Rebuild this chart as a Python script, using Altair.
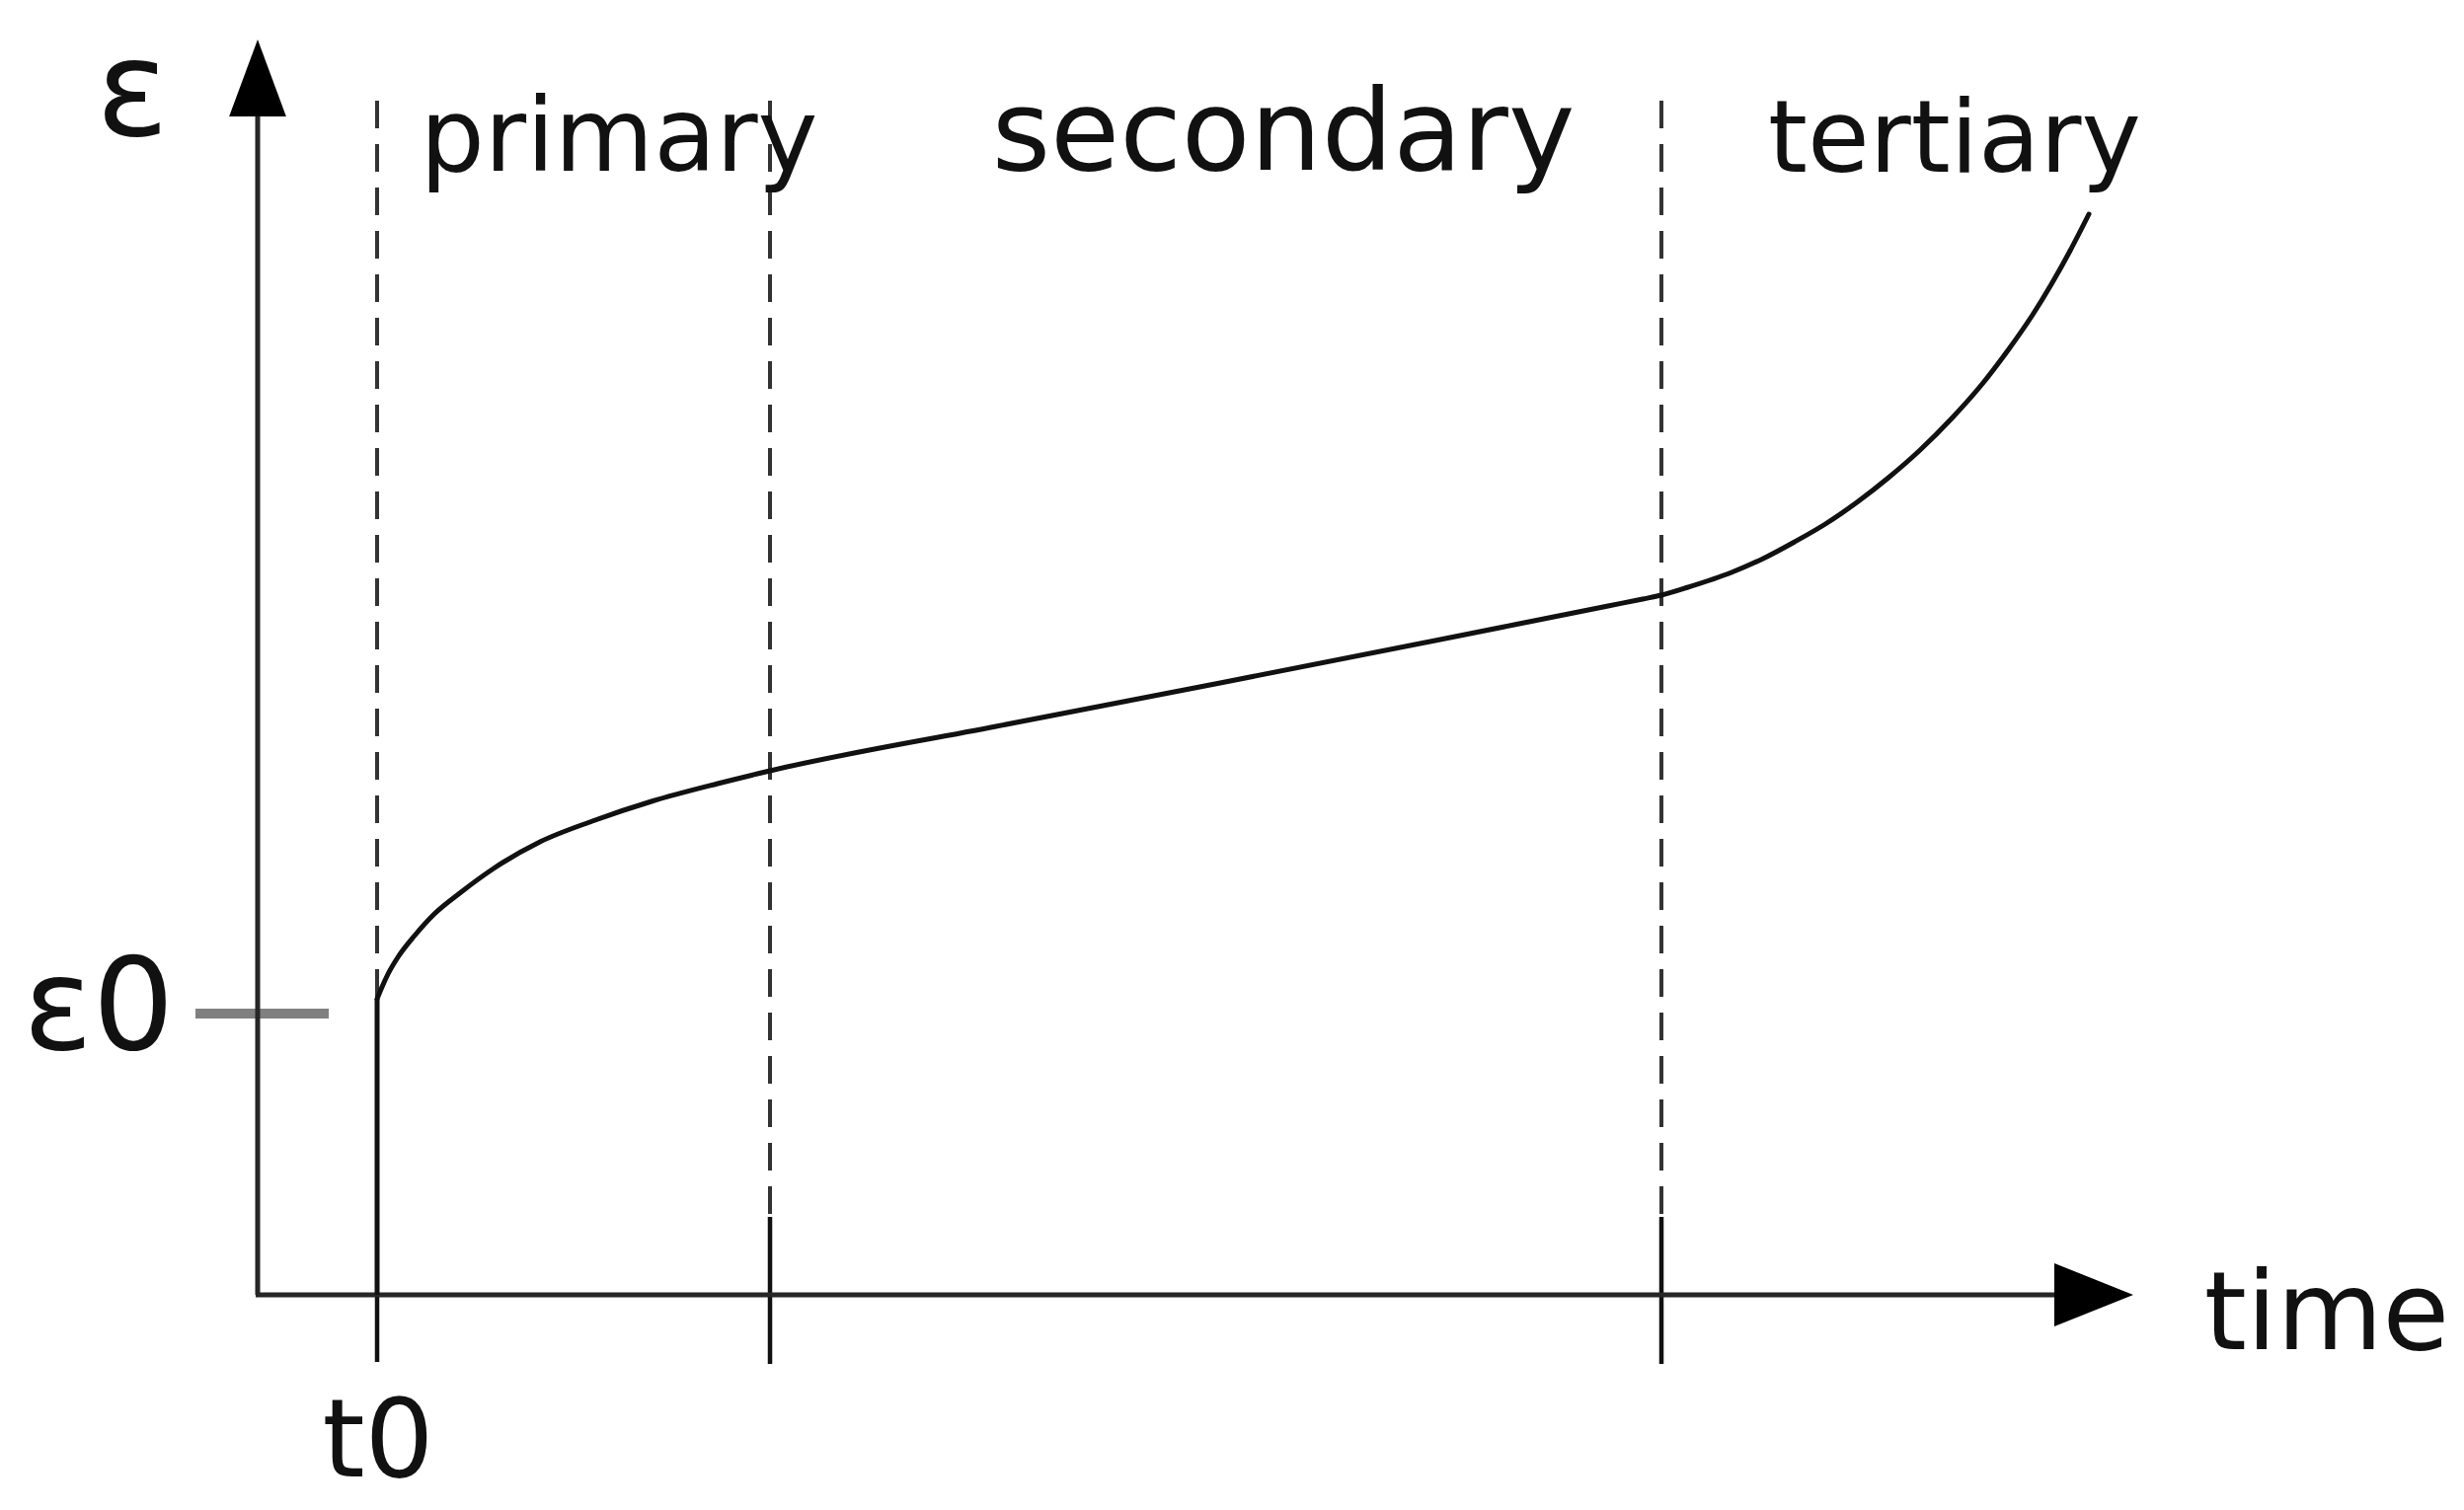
import altair as alt
import pandas as pd

# ---- data (time units, strain units) ----
t0_time = 12.3
initial_strain_top = 30.0  # top of the instantaneous (vertical) strain jump at t0

curve_time = [12.3, 12.8, 13.4, 14.4, 16.1, 18.1, 20.8, 24.1, 28.8, 34.1, 40.1,
              46.8, 52.1, 75.0, 97.7, 120.0, 131.0, 137.0, 140.5, 142.4, 145.1, 149.5,
              152.7, 155.9, 159.0, 162.2, 165.4, 168.6, 171.8, 174.9, 177.5, 180.0,
              181.9, 183.8, 185.7]
curve_strain = [30.0, 31.2, 32.5, 34.2, 36.4, 38.6, 40.8, 43.2, 45.9, 48.0, 50.0,
                51.8, 53.1, 57.6, 62.0, 66.4, 68.6, 69.8, 70.5, 70.9, 71.7, 73.2,
                74.6, 76.3, 78.1, 80.3, 82.8, 85.6, 88.8, 92.3, 95.7, 99.3,
                102.4, 105.8, 109.5]

boundary_times = [12.3, 52.1, 142.4]
dash_top = [121.0, 121.0, 121.0]
dash_bottom = [0.0, 7.9, 7.9]
tick_top = [0.0, 7.9, 7.9]
tick_bottom = [-6.8, -7.0, -7.0]

stage_labels = ["primary", "secondary", "tertiary"]
stage_label_time = [36.8, 104.1, 172.1]
stage_label_strain = [113.9, 114.0, 113.8]
stage_label_size = [103, 114, 102]

axis_labels = ["ε", "ε0", "t0", "time"]
axis_label_time = [-12.5, -15.9, 12.4, 209.8]
axis_label_strain = [117.5, 24.9, -18.4, -5.5]
axis_label_size = [136, 130, 110, 110]

eps0_value = 28.5
eps0_tick_from = -6.1
eps0_tick_to = 7.4

x_axis_end = 182.2
y_axis_end = 119.7
x_arrow_center = 186.2
y_arrow_center = 123.3

# ---- scales ----
xs = alt.Scale(domain=[-25.1, 222.9], nice=False, zero=False)
ys = alt.Scale(domain=[-21.0, 130.4], nice=False, zero=False)


def X(f):
    return alt.X(f"{f}:Q", scale=xs, axis=None)


def Y(f):
    return alt.Y(f"{f}:Q", scale=ys, axis=None)


axes_df = pd.DataFrame({"t": [0.2, 0.0], "e": [0.0, 0.0],
                        "t2": [0.2, x_axis_end], "e2": [y_axis_end, 0.0]})
axes = alt.Chart(axes_df).mark_rule(color="#262626", strokeWidth=5).encode(
    x=X("t"), y=Y("e"), x2="t2:Q", y2="e2:Q")

y_arrow = alt.Chart(pd.DataFrame({"t": [0.2], "e": [y_arrow_center]})).mark_point(
    shape="M0,-1L0.74,1L-0.74,1Z", size=6084, filled=True, color="black", opacity=1
).encode(x=X("t"), y=Y("e"))

x_arrow = alt.Chart(pd.DataFrame({"t": [x_arrow_center], "e": [0.0]})).mark_point(
    shape="M1,0L-1,-0.8L-1,0.8Z", size=6400, filled=True, color="black", opacity=1
).encode(x=X("t"), y=Y("e"))

bdf = pd.DataFrame({"t": boundary_times, "top": dash_top, "bottom": dash_bottom,
                    "ttop": tick_top, "tbot": tick_bottom})
dashed = alt.Chart(bdf).mark_rule(strokeDash=[28, 16], strokeWidth=4, color="#333333").encode(
    x=X("t"), y=Y("top"), y2="bottom:Q")
ticks = alt.Chart(bdf).mark_rule(strokeWidth=4.5, color="#111111").encode(
    x=X("t"), y=Y("ttop"), y2="tbot:Q")

jump = alt.Chart(pd.DataFrame({"t": [t0_time], "e": [0.0], "e2": [initial_strain_top]})).mark_rule(
    strokeWidth=5, color="#111111").encode(x=X("t"), y=Y("e"), y2="e2:Q")

eps0 = alt.Chart(pd.DataFrame({"t": [eps0_tick_from], "t2": [eps0_tick_to], "e": [eps0_value]})).mark_rule(
    color="#808080", strokeWidth=10).encode(x=X("t"), x2="t2:Q", y=Y("e"))

cdf = pd.DataFrame({"t": curve_time, "e": curve_strain, "i": list(range(len(curve_time)))})
curve = alt.Chart(cdf).mark_line(color="#111111", strokeWidth=5, interpolate="monotone",
                                 strokeCap="round").encode(
    x=X("t"), y=Y("e"), order="i:Q")

tdf = pd.DataFrame({
    "label": stage_labels + axis_labels,
    "t": stage_label_time + axis_label_time,
    "e": stage_label_strain + axis_label_strain,
    "size": stage_label_size + axis_label_size,
})
texts = alt.Chart(tdf).mark_text(font="DejaVu Sans", baseline="alphabetic", align="center",
                                 color="#111111").encode(
    x=X("t"), y=Y("e"), text="label:N", size=alt.Size("size:Q", scale=None, legend=None))

chart = alt.layer(dashed, ticks, eps0, axes, jump, curve, y_arrow, x_arrow, texts).properties(
    width=2480, height=1514, padding=0
).configure_view(stroke=None)

chart.save("out.html", embed_options={"renderer": "svg", "actions": False})
